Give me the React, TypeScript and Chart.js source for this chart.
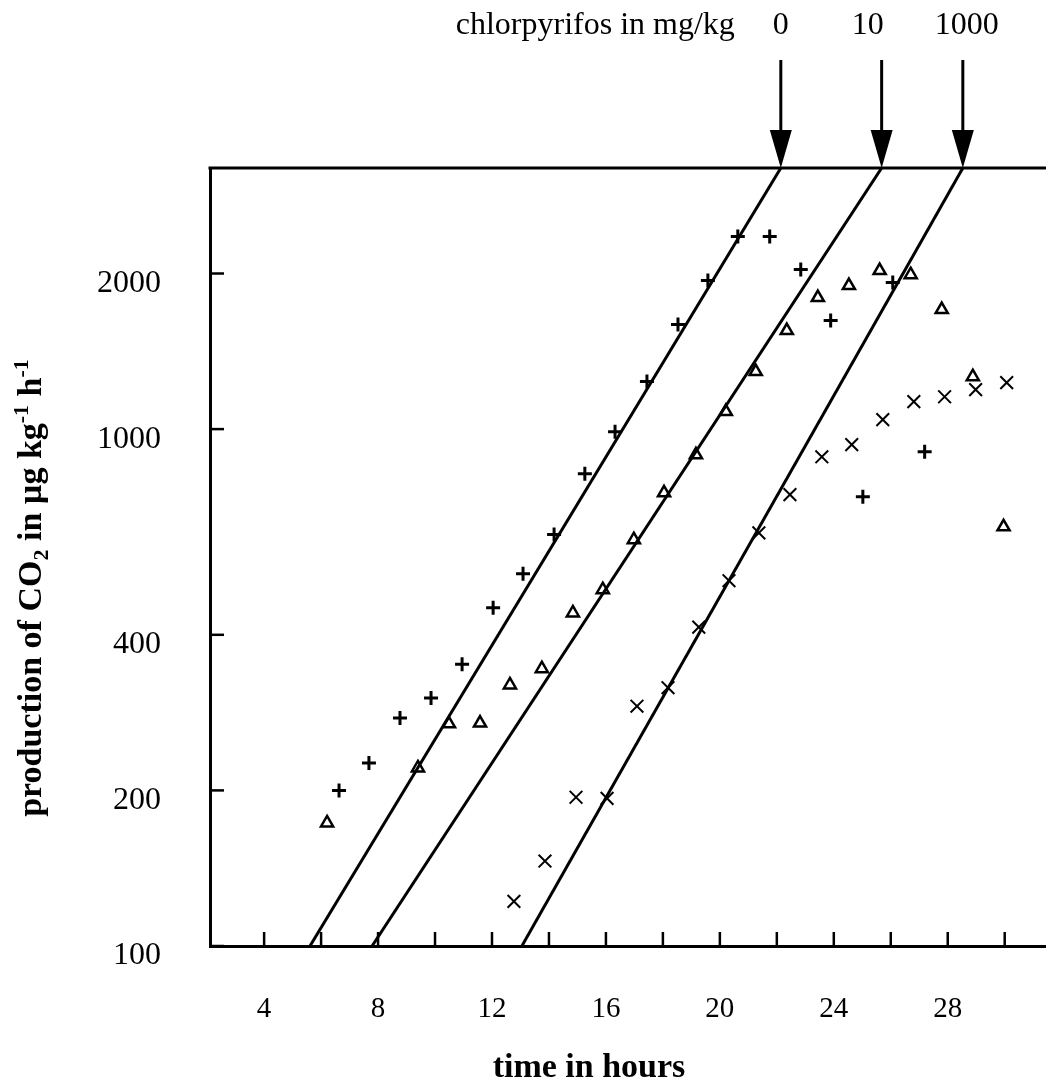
import React, { useEffect, useRef } from 'react';
import { Chart, registerables } from 'chart.js';

Chart.register(...registerables);

// ---- data ----
const doseLabels = ['0', '10', '1000'];

const time0 = [6.63, 7.68, 8.77, 9.86, 10.95, 12.04, 13.09, 14.18, 15.26, 16.32, 17.44, 18.53, 19.58, 20.63, 21.75, 22.84, 23.89, 25.02, 26.07, 27.19];
const co2Dose0 = [200, 226, 276, 302, 351, 451, 525, 625, 820, 988, 1236, 1593, 1938, 2358, 2358, 2035, 1622, 740, 1921, 904];

const time10 = [6.21, 9.4, 10.49, 11.58, 12.63, 13.75, 14.84, 15.89, 16.98, 18.04, 19.16, 20.21, 21.26, 22.35, 23.44, 24.53, 25.61, 26.7, 27.79, 28.88, 29.96];
const co2Dose10 = [173, 221, 269, 270, 320, 344, 441, 489, 611, 753, 892, 1081, 1292, 1551, 1797, 1895, 2026, 1990, 1703, 1263, 647];

const time1000 = [12.77, 13.86, 14.95, 16.04, 17.09, 18.18, 19.26, 20.32, 21.37, 22.46, 23.58, 24.63, 25.72, 26.81, 27.89, 28.98, 30.07];
const co2Dose1000 = [122, 146, 194, 193, 291, 316, 414, 509, 630, 747, 884, 933, 1043, 1130, 1155, 1192, 1230];

// regression lines: time at which each line reaches fitLow and fitHigh
const fitStartTime = [5.61, 7.79, 13.05];
const fitEndTime = [22.14, 25.68, 28.53];
const fitLow = 100;
const fitHigh = 3200;

const xTickValues = [4, 6, 8, 10, 12, 14, 16, 18, 20, 22, 24, 26, 28, 30];
const xTickLabels = [4, 8, 12, 16, 20, 24, 28];
const yTickValues = [100, 200, 400, 1000, 2000];

const X_MIN = 2.1;
const X_MAX = 31.45;
const Y_MIN = 100;
const Y_MAX = 3200;

const FONT = '"Liberation Serif", "Times New Roman", serif';

const decorPlugin = {
  id: 'decor',
  afterDraw(chart: any) {
    const { ctx, chartArea: ca, scales } = chart;
    const xs = scales.x;
    const ys = scales.y;
    ctx.save();
    ctx.strokeStyle = '#000';
    ctx.fillStyle = '#000';
    ctx.lineCap = 'butt';

    // top frame line
    ctx.lineWidth = 3;
    ctx.beginPath();
    ctx.moveTo(ca.left - 1.5, ca.top);
    ctx.lineTo(ca.right, ca.top);
    ctx.stroke();

    // inward tick marks
    ctx.lineWidth = 2.5;
    xTickValues.forEach((v) => {
      const px = xs.getPixelForValue(v);
      ctx.beginPath();
      ctx.moveTo(px, ca.bottom);
      ctx.lineTo(px, ca.bottom - 14);
      ctx.stroke();
    });
    yTickValues.forEach((v) => {
      const py = ys.getPixelForValue(v);
      ctx.beginPath();
      ctx.moveTo(ca.left, py);
      ctx.lineTo(ca.left + 14, py);
      ctx.stroke();
    });

    // arrows and dose labels
    const labelShift = [0, -14, 4];
    ctx.font = `32px ${FONT}`;
    ctx.textBaseline = 'alphabetic';
    fitEndTime.forEach((t, i) => {
      const px = xs.getPixelForValue(t);
      const tipY = ys.getPixelForValue(fitHigh);
      ctx.lineWidth = 3;
      ctx.beginPath();
      ctx.moveTo(px, 60);
      ctx.lineTo(px, 132);
      ctx.stroke();
      ctx.beginPath();
      ctx.moveTo(px - 11, 130);
      ctx.lineTo(px + 11, 130);
      ctx.lineTo(px, tipY);
      ctx.closePath();
      ctx.fill();
      ctx.textAlign = 'center';
      ctx.fillText(doseLabels[i], px + labelShift[i], 34);
    });
    ctx.textAlign = 'right';
    ctx.fillText('chlorpyrifos in mg/kg', xs.getPixelForValue(fitEndTime[0]) - 46, 34);

    // x title
    ctx.font = `bold 34px ${FONT}`;
    ctx.textAlign = 'center';
    ctx.fillText('time in hours', ca.left + 379, 1077);

    // y title (rotated, with sub/superscripts)
    const segs = [
      { t: 'production of CO', size: 34, dy: 0 },
      { t: '2', size: 22, dy: 7 },
      { t: ' in \u00b5g kg', size: 34, dy: 0 },
      { t: '-1', size: 22, dy: -13 },
      { t: ' h', size: 34, dy: 0 },
      { t: '-1', size: 22, dy: -13 },
    ];
    ctx.save();
    ctx.translate(41, 588);
    ctx.rotate(-Math.PI / 2);
    let total = 0;
    segs.forEach((s) => {
      ctx.font = `bold ${s.size}px ${FONT}`;
      total += ctx.measureText(s.t).width;
    });
    let x = -total / 2;
    ctx.textAlign = 'left';
    segs.forEach((s) => {
      ctx.font = `bold ${s.size}px ${FONT}`;
      ctx.fillText(s.t, x, s.dy);
      x += ctx.measureText(s.t).width;
    });
    ctx.restore();

    ctx.restore();
  },
};

function toPoints(xs: number[], ys: number[]) {
  return xs.map((x, i) => ({ x, y: ys[i] }));
}

export default function App() {
  const ref = useRef<HTMLCanvasElement | null>(null);

  useEffect(() => {
    document.body.style.margin = '0';
    const canvas = ref.current;
    if (!canvas) return;

    const fitSets = fitStartTime.map((t0, i) => ({
      label: `fit ${doseLabels[i]}`,
      data: [
        { x: t0, y: fitLow },
        { x: fitEndTime[i], y: fitHigh },
      ],
      showLine: true,
      borderColor: '#000',
      borderWidth: 3,
      pointRadius: 0,
      fill: false,
    }));

    const chart = new Chart(canvas, {
      type: 'scatter',
      data: {
        datasets: [
          {
            label: '0 mg/kg',
            data: toPoints(time0, co2Dose0),
            pointStyle: 'cross',
            pointRadius: 7,
            pointBorderWidth: 3,
            pointBorderColor: '#000',
            pointBackgroundColor: '#000',
          },
          {
            label: '10 mg/kg',
            data: toPoints(time10, co2Dose10),
            pointStyle: 'triangle',
            pointRadius: 7,
            pointBorderWidth: 2.5,
            pointBorderColor: '#000',
            pointBackgroundColor: 'rgba(0,0,0,0)',
          },
          {
            label: '1000 mg/kg',
            data: toPoints(time1000, co2Dose1000),
            pointStyle: 'crossRot',
            pointRadius: 9,
            pointBorderWidth: 2,
            pointBorderColor: '#000',
            pointBackgroundColor: '#000',
          },
          ...fitSets,
        ] as any,
      },
      options: {
        animation: false,
        responsive: false,
        devicePixelRatio: 1,
        events: [],
        layout: { autoPadding: false, padding: { top: 168, right: 0, left: 0, bottom: 0 } },
        plugins: {
          legend: { display: false },
          tooltip: { enabled: false },
          title: { display: false },
        },
        scales: {
          x: {
            type: 'linear',
            min: X_MIN,
            max: X_MAX,
            afterBuildTicks: (s: any) => {
              s.ticks = xTickValues.map((v) => ({ value: v }));
            },
            afterFit: (s: any) => {
              s.height = 136;
            },
            ticks: {
              autoSkip: false,
              maxRotation: 0,
              padding: 0,
              color: '#000',
              font: { family: FONT, size: 29, lineHeight: 126 / 29 },
              callback: (v: any) => (xTickLabels.includes(Number(v)) ? String(v) : ''),
            },
            grid: { display: false, drawTicks: false },
            border: { display: true, color: '#000', width: 3 },
          },
          y: {
            type: 'logarithmic',
            min: Y_MIN,
            max: Y_MAX,
            afterBuildTicks: (s: any) => {
              s.ticks = yTickValues.map((v) => ({ value: v }));
            },
            afterFit: (s: any) => {
              s.width = 210;
            },
            ticks: {
              autoSkip: false,
              padding: 49,
              labelOffset: 10,
              color: '#000',
              font: { family: FONT, size: 32 },
              callback: (v: any) => String(v),
            },
            grid: { display: false, drawTicks: false },
            border: { display: true, color: '#000', width: 3 },
          },
        },
      } as any,
      plugins: [decorPlugin],
    });

    return () => {
      chart.destroy();
    };
  }, []);

  return (
    <canvas
      ref={ref}
      width={1046}
      height={1082}
      style={{ display: 'block', width: '1046px', height: '1082px', background: '#fff' }}
    />
  );
}
